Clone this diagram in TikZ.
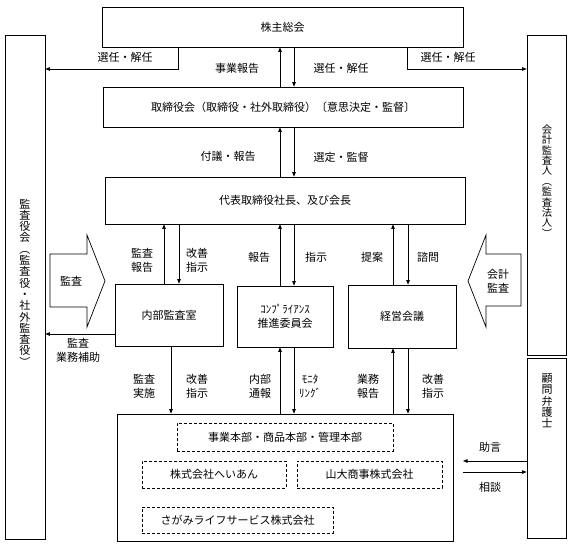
\documentclass[tikz,border=0pt]{standalone}
\usepackage{fontspec}
\newfontfamily\jpfont{Noto Sans CJK JP}
\usetikzlibrary{arrows.meta}

\begin{document}
\begin{tikzpicture}[x=1pt,y=-1pt,line width=0.7pt,
        font=\jpfont\fontsize{11}{14}\selectfont,
        box/.style={draw,inner sep=0pt},
        dbox/.style={draw,dash pattern=on 3pt off 2pt,inner sep=0pt},
        arr/.style={-{Triangle[length=4.5pt,width=3.5pt]}},
        lbl/.style={align=center,inner sep=0pt},
        vlbl/.style={align=center,inner sep=0pt,font=\jpfont\fontsize{11}{11.3}\selectfont}]
    \useasboundingbox (0,0) rectangle (572,545);

    \node[box,minimum width=361pt,minimum height=40pt] (kabunushi) at (282.5,27) {株主総会};
    \node[box,minimum width=360pt,minimum height=40pt] (torishimari) at (283,107) {取締役会（取締役・社外取締役）〔意思決定・監督〕};
    \node[box,minimum width=360pt,minimum height=47pt] (daihyo) at (285,200.5) {代表取締役社長、及び会長};
    \node[box,minimum width=108pt,minimum height=62pt] (naibukansa) at (169,315) {内部監査室};
    \node[box,minimum width=96pt,minimum height=61pt,align=center] (compliance) at (285,316.5) {ｺﾝﾌﾟﾗｲｱﾝｽ\\推進委員会};
    \node[box,minimum width=108pt,minimum height=63pt] (keiei) at (402,316.5) {経営会議};
    \node[box,minimum width=336pt,minimum height=127pt] (jigyo) at (285,477.5) {};
    \node[dbox,minimum width=216pt,minimum height=28pt] (honbu) at (285,437) {事業本部・商品本部・管理本部};
    \node[dbox,minimum width=144pt,minimum height=27pt] (heian) at (214,474.5) {株式会社へいあん};
    \node[dbox,minimum width=145pt,minimum height=27pt] (yamadai) at (369.5,474.5) {山大商事株式会社};
    \node[dbox,minimum width=191pt,minimum height=26pt] (sagami) at (237.5,520) {さがみライフサービス株式会社};

    \node[box,minimum width=40pt,minimum height=504pt] (kansayakukai) at (25,287) {};
    \node[box,minimum width=39pt,minimum height=320pt] (kaikei) at (546.5,195) {};
    \node[box,minimum width=39pt,minimum height=180pt] (bengoshi) at (546.5,448) {};
    \node[vlbl] (kansayakukaiText) at (25,282.5) {監\\査\\役\\会\\︵\\監\\査\\役\\・\\社\\外\\監\\査\\役\\︶};
    \node[vlbl,font=\jpfont\fontsize{10.3}{10.4}\selectfont] (kaikeiText) at (547,181) {会\\計\\監\\査\\人\\︵\\監\\査\\法\\人\\︶};
    \node[vlbl] (bengoshiText) at (547,401) {顧\\問\\弁\\護\\士};

    \draw (50,254) -- (87,254) -- (87,235) -- (105,281) -- (87,327) -- (87,307) -- (50,307) -- cycle;
    \node[lbl] (kansaIn) at (71,281) {監査};
    \draw (521,254) -- (486,254) -- (486,235) -- (468,281) -- (486,327) -- (486,306) -- (521,306) -- cycle;
    \node[lbl] (kaikeiIn) at (498,281) {会計\\監査};

    \coordinate (c164) at (164,0);
    \coordinate (c171) at (171,0);
    \coordinate (c178) at (178,0);
    \coordinate (c179) at (179,0);
    \coordinate (c280) at (280,0);
    \coordinate (c294) at (294,0);
    \coordinate (c393) at (393,0);
    \coordinate (c407) at (407,0);
    \coordinate (c408) at (408,0);
    \coordinate (r69) at (0,69);
    \coordinate (r334) at (0,334);
    \coordinate (jogenEnd) at (463,461);
    \coordinate (soudanStart) at (463,472);

    \draw[arr] (kabunushi.south -| c178) |- (kansayakukai.east |- r69);
    \draw[arr] (kabunushi.south -| c407) |- (kaikei.west |- r69);
    \draw[arr] (torishimari.north -| c280) -- (kabunushi.south -| c280);
    \draw[arr] (kabunushi.south -| c294) -- (torishimari.north -| c294);
    \draw[arr] (daihyo.north -| c280) -- (torishimari.south -| c280);
    \draw[arr] (torishimari.south -| c294) -- (daihyo.north -| c294);
    \draw[arr] (naibukansa.north -| c164) -- (daihyo.south -| c164);
    \draw[arr] (daihyo.south -| c179) -- (naibukansa.north -| c179);
    \draw[arr] (compliance.north -| c280) -- (daihyo.south -| c280);
    \draw[arr] (daihyo.south -| c294) -- (compliance.north -| c294);
    \draw[arr] (keiei.north -| c393) -- (daihyo.south -| c393);
    \draw[arr] (daihyo.south -| c408) -- (keiei.north -| c408);
    \draw[arr] (naibukansa.west |- r334) -- (kansayakukai.east |- r334);
    \draw[arr] (naibukansa.south -| c171) -- (jigyo.north -| c171);
    \draw[arr] (jigyo.north -| c280) -- (compliance.south -| c280);
    \draw[arr] (compliance.south -| c294) -- (jigyo.north -| c294);
    \draw[arr] (jigyo.north -| c393) -- (keiei.south -| c393);
    \draw[arr] (keiei.south -| c408) -- (jigyo.north -| c408);
    \draw[arr] (bengoshi.west |- jogenEnd) -- (jogenEnd);
    \draw[arr] (soudanStart) -- (bengoshi.west |- soudanStart);

    \node[lbl] (sennin1) at (125,57) {選任・解任};
    \node[lbl] (sennin2) at (448,57) {選任・解任};
    \node[lbl] (jigyoHokoku) at (237,68) {事業報告};
    \node[lbl] (sennin3) at (341,68) {選任・解任};
    \node[lbl] (fugi) at (228,156) {付議・報告};
    \node[lbl] (sentei) at (341,157) {選定・監督};
    \node[lbl] (kansaHokoku) at (142,260) {監査\\報告};
    \node[lbl] (kaizen1) at (197,260) {改善\\指示};
    \node[lbl] (hokoku) at (259,257) {報告};
    \node[lbl] (shiji) at (316,257) {指示};
    \node[lbl] (teian) at (372,257) {提案};
    \node[lbl] (shimon) at (428,257) {諮問};
    \node[lbl] (hojo) at (78,350) {監査\\業務補助};
    \node[lbl] (jisshi) at (144,386) {監査\\実施};
    \node[lbl] (kaizen2) at (197,386) {改善\\指示};
    \node[lbl] (tsuho) at (260,386) {内部\\通報};
    \node[lbl] (monitor) at (310,386) {ﾓﾆﾀ\\ﾘﾝｸﾞ};
    \node[lbl] (gyomu) at (368,386) {業務\\報告};
    \node[lbl] (kaizen3) at (433,386) {改善\\指示};
    \node[lbl] (jogen) at (490,447) {助言};
    \node[lbl] (soudan) at (490,487) {相談};
\end{tikzpicture}
\end{document}
